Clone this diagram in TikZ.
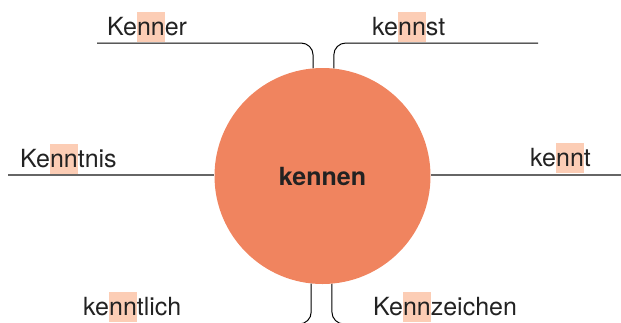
\documentclass[tikz,border=0pt]{standalone}
\usepackage{fontspec}
\setmainfont{TeX Gyre Heros}
\definecolor{wordfill}{HTML}{F0845F}
\definecolor{hlfill}{HTML}{FCCDB5}
\definecolor{inkgray}{HTML}{222222}
\newcommand{\stem}[1]{{\setlength{\fboxsep}{0pt}\colorbox{hlfill}{\rule[-7pt]{0pt}{30pt}#1}}}
\begin{document}
\begin{tikzpicture}[x=1pt,y=-1pt,
    word/.style={anchor=base west,inner sep=0pt,font=\fontsize{25}{30}\selectfont,text=inkgray},
    wire/.style={draw=black,line width=1pt,rounded corners=12pt},
    axis/.style={draw=black!60,line width=1.3pt}]
    \useasboundingbox (0,0) rectangle (621,322);
    \clip (0,0) rectangle (621,322);

    % centre word
    \node[circle,fill=wordfill,minimum size=216pt,inner sep=0pt,
          font=\fontsize{25}{30}\selectfont\bfseries,text=inkgray] (kennen) at (322.5,176) {kennen};

    % top
    \coordinate (kennerEnd) at (97,43);
    \coordinate (kennstEnd) at (538,43);
    \draw[wire] (kennerEnd) -| (kennen.95.6);
    \draw[wire] (kennstEnd) -| (kennen.84.4);
    \node[word] (kenner) at (107,35) {Ke\stem{nn}er};
    \node[word] (kennst) at (372,35) {ke\stem{nn}st};

    % middle
    \coordinate (kenntnisEnd) at (8,175);
    \coordinate (kenntEnd) at (621,175);
    \draw[axis] (kenntnisEnd) -- (kennen.west |- kenntnisEnd);
    \draw[axis] (kennen.east |- kenntEnd) -- (kenntEnd);
    \node[word] (kenntnis) at (20,167) {Ke\stem{nn}tnis};
    \node[word] (kennt) at (530,166) {ke\stem{nn}t};

    % bottom
    \coordinate (kenntlichEnd) at (270,324);
    \coordinate (kennzeichenEnd) at (375,324);
    \draw[wire] (kennen.264.4) |- (kenntlichEnd);
    \draw[wire] (kennen.275.6) |- (kennzeichenEnd);
    \node[word] (kenntlich) at (83,315) {ke\stem{nn}tlich};
    \node[word] (kennzeichen) at (373,315) {Ke\stem{nn}zeichen};
\end{tikzpicture}
\end{document}
